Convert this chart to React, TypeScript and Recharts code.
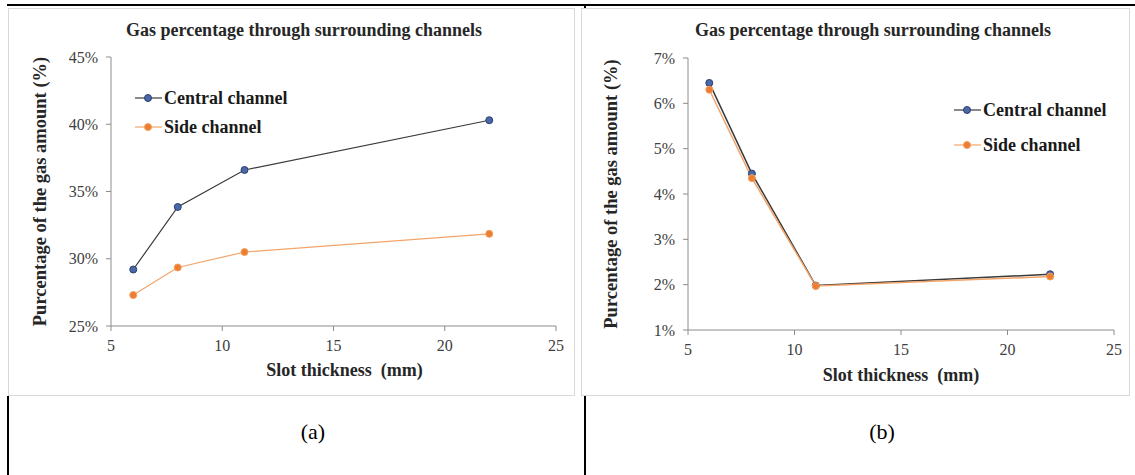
import React from "react"
import { LineChart, Line, XAxis, YAxis, Legend, Label } from "recharts"

// slot thickness (mm) on x, percentages on y
const slotThickness = [6, 8, 11, 22]
const centralA = [29.2, 33.85, 36.6, 40.3]
const sideA = [27.3, 29.35, 30.5, 31.85]
const centralB = [6.45, 4.45, 1.98, 2.23]
const sideB = [6.3, 4.35, 1.97, 2.18]

const xTicks = [5, 10, 15, 20, 25]
const yTicksA = [25, 30, 35, 40, 45]
const yTicksB = [1, 2, 3, 4, 5, 6, 7]

const seriesNames = ["Central channel", "Side channel"]
const chartTitle = "Gas percentage through surrounding channels"
const xTitle = "Slot thickness\u00a0\u00a0(mm)"
const yTitle = "Purcentage of the gas amount (%)"
const captions = ["(a)", "(b)"]

const serif = '"Liberation Serif", "Times New Roman", serif'
const axisGrey = "#8c8c8c"
const centralLine = "#3a3a3a"
const centralDot = "#4a67a6"
const sideLine = "#f2a56b"
const sideDot = "#ed7d31"

const buildRows = (central: number[], side: number[]) =>
  slotThickness.map((x, i) => ({ x, central: central[i], side: side[i] }))

const LegendBox = ({ rowHeight }: { rowHeight: number }) => (
  <div style={{ fontFamily: serif, fontWeight: "bold", fontSize: 18, color: "#1a1a1a" }}>
    {seriesNames.map((name, i) => (
      <div key={name} style={{ display: "flex", alignItems: "center", height: rowHeight, whiteSpace: "nowrap" }}>
        <svg width={28} height={12}>
          <line x1={0} x2={27} y1={6} y2={6} stroke={i === 0 ? centralLine : sideLine} strokeWidth={1.2} />
          <circle cx={13} cy={6} r={3.5} fill={i === 0 ? centralDot : sideDot} stroke={i === 0 ? "#2b3f70" : "#f0a060"} />
        </svg>
        <span style={{ marginLeft: 1 }}>{name}</span>
      </div>
    ))}
  </div>
)

interface PanelProps {
  left: number
  width: number
  rows: { x: number; central: number; side: number }[]
  yTicks: number[]
  margin: { top: number; right: number; bottom: number; left: number }
  titleCx: number
  yTitleX: number
  xTitleDx: number
  xTitleY: number
  legendPos: { left: number; top: number; rowHeight: number }
  lineWidth: number
}

function Panel({ left, width, rows, yTicks, margin, titleCx, yTitleX, xTitleDx, xTitleY, legendPos, lineWidth }: PanelProps) {
  const chartW = width - 2
  const chartH = 386
  return (
    <div
      style={{
        position: "absolute",
        left,
        top: 8,
        width: chartW,
        height: chartH,
        border: "1px solid #d9d9d9",
        background: "#fff",
        fontFamily: serif,
      }}
    >
      <div
        style={{
          position: "absolute",
          left: titleCx - 260,
          width: 520,
          top: 11,
          textAlign: "center",
          fontFamily: serif,
          fontWeight: "bold",
          fontSize: 18,
          lineHeight: "20px",
          color: "#262626",
        }}
      >
        {chartTitle}
      </div>
      <LineChart width={chartW} height={chartH} data={rows} margin={margin} style={{ fontFamily: serif }}>
        <XAxis
          type="number"
          dataKey="x"
          domain={[5, 25]}
          ticks={xTicks}
          interval={0}
          height={60}
          tickSize={5}
          tickMargin={9}
          axisLine={{ stroke: axisGrey }}
          tickLine={{ stroke: axisGrey }}
          tick={{ fill: "#404040", fontSize: 16, fontFamily: serif }}
        >
          <Label
            content={(p: any) => {
              const vb = p.viewBox || {}
              return (
                <text
                  x={vb.x + vb.width / 2 + xTitleDx}
                  y={xTitleY}
                  textAnchor="middle"
                  fontFamily={serif}
                  fontWeight="bold"
                  fontSize={18}
                  fill="#262626"
                >
                  {xTitle}
                </text>
              )
            }}
          />
        </XAxis>
        <YAxis
          type="number"
          domain={[yTicks[0], yTicks[yTicks.length - 1]]}
          ticks={yTicks}
          interval={0}
          width={80}
          tickSize={5}
          tickMargin={8}
          tickFormatter={(v: number) => `${v}%`}
          axisLine={{ stroke: axisGrey }}
          tickLine={{ stroke: axisGrey }}
          tick={{ fill: "#404040", fontSize: 16, fontFamily: serif }}
        >
          <Label
            content={(p: any) => {
              const vb = p.viewBox || {}
              const cy = vb.y + vb.height / 2
              return (
                <text
                  x={yTitleX}
                  y={cy}
                  transform={`rotate(-90 ${yTitleX} ${cy})`}
                  textAnchor="middle"
                  dominantBaseline="central"
                  fontFamily={serif}
                  fontWeight="bold"
                  fontSize={18.5}
                  fill="#262626"
                >
                  {yTitle}
                </text>
              )
            }}
          />
        </YAxis>
        <Legend
          layout="vertical"
          align="center"
          verticalAlign="middle"
          wrapperStyle={{ left: legendPos.left, top: legendPos.top, width: "auto", height: "auto" }}
          content={() => <LegendBox rowHeight={legendPos.rowHeight} />}
        />
        <Line
          type="linear"
          dataKey="central"
          name={seriesNames[0]}
          stroke={centralLine}
          strokeWidth={lineWidth}
          dot={{ r: 3.5, fill: centralDot, stroke: "#2b3f70", strokeWidth: 1 }}
          activeDot={false}
          isAnimationActive={false}
        />
        <Line
          type="linear"
          dataKey="side"
          name={seriesNames[1]}
          stroke={sideLine}
          strokeWidth={lineWidth}
          dot={{ r: 3.5, fill: sideDot, stroke: "#f0a060", strokeWidth: 1 }}
          activeDot={false}
          isAnimationActive={false}
        />
      </LineChart>
    </div>
  )
}

export default function App() {
  const rowsA = buildRows(centralA, sideA)
  const rowsB = buildRows(centralB, sideB)
  return (
    <div style={{ position: "absolute", left: 0, top: 0, width: 1135, height: 475, background: "#fff", overflow: "hidden" }}>
      {/* table rules */}
      <div style={{ position: "absolute", left: 7, top: 4, width: 1128, height: 2, background: "#000" }} />
      <div style={{ position: "absolute", left: 7, top: 396, width: 2, height: 79, background: "#000" }} />
      <div style={{ position: "absolute", left: 584, top: 4, width: 2, height: 4, background: "#000" }} />
      <div style={{ position: "absolute", left: 584, top: 396, width: 2, height: 79, background: "#000" }} />

      <Panel
        left={8}
        width={567}
        rows={rowsA}
        yTicks={yTicksA}
        margin={{ top: 48, right: 18, bottom: 9, left: 22 }}
        titleCx={295}
        yTitleX={31}
        xTitleDx={11}
        xTitleY={367}
        legendPos={{ left: 126, top: 74.5, rowHeight: 29 }}
        lineWidth={1.2}
      />
      <Panel
        left={581}
        width={549}
        rows={rowsB}
        yTicks={yTicksB}
        margin={{ top: 49, right: 15, bottom: 5, left: 26 }}
        titleCx={291}
        yTitleX={29}
        xTitleDx={0}
        xTitleY={372}
        legendPos={{ left: 372, top: 83.5, rowHeight: 35 }}
        lineWidth={1.5}
      />

      {captions.map((c, i) => (
        <div
          key={c}
          style={{
            position: "absolute",
            left: (i === 0 ? 313 : 882) - 40,
            width: 80,
            top: 418,
            textAlign: "center",
            fontFamily: serif,
            fontSize: 22,
            lineHeight: "28px",
            color: "#000",
          }}
        >
          {c}
        </div>
      ))}
    </div>
  )
}
